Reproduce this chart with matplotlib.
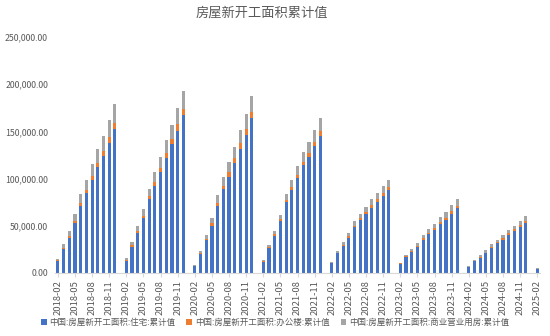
import numpy as np
import matplotlib
matplotlib.use("Agg")
import matplotlib.pyplot as plt

plt.rcParams['font.family'] = ['Noto Sans CJK SC', 'DejaVu Sans']

# months 2018-02 .. 2025-02, January is merged into Feb so it stays empty (nan)
months = ['%d-%02d' % (2018 + (1 + i) // 12, (1 + i) % 12 + 1) for i in range(85)]

nan = np.nan
# 住宅 (万平方米)
residential = [
    12700, 25100, 37400, 53000, 71000, 84700, 98900, 112300, 123900, 138100, 152500,
    nan, 13100, 27900, 42700, 58300, 78000, 92500, 107000, 121800, 136300, 150800, 167000,
    nan, 7400, 19800, 35000, 50100, 71300, 89000, 102000, 116200, 131700, 146500, 163800,
    nan, 11600, 26100, 39500, 54700, 74800, 87900, 100300, 114000, 122500, 134200, 145500,
    nan, 10600, 20800, 28600, 37400, 48400, 55800, 62500, 68900, 75200, 81200, 87600,
    nan, 9900, 17000, 22200, 27900, 35300, 40900, 45900, 51600, 56500, 62900, 68500,
    nan, 6000, 12200, 16300, 20800, 26900, 31400, 35300, 40200, 44500, 48700, 53300,
    nan, 4200,
]
# 办公楼
office = [
    1000, 1600, 2100, 2600, 3200, 3600, 4000, 4600, 5100, 5600, 6400,
    nan, 1100, 1400, 1800, 2200, 3200, 3900, 4600, 4900, 6000, 6700, 7100,
    nan, 400, 1100, 1300, 2500, 2700, 3200, 4600, 5300, 5600, 5900, 6400,
    nan, 700, 1100, 1500, 2100, 2600, 2900, 3300, 3800, 4400, 4900, 5300,
    nan, 400, 800, 1000, 1400, 1600, 2000, 2300, 2600, 2900, 3200, 3500,
    nan, 300, 600, 900, 1100, 1400, 1600, 1800, 2000, 2200, 2400, 2600,
    nan, 300, 500, 700, 900, 1100, 1300, 1500, 1700, 1800, 2000, 2200,
    nan, 300,
]
# 商业营业用房
commercial = [
    1100, 3500, 5300, 7400, 9200, 10200, 12400, 14500, 15900, 18400, 19800,
    nan, 1400, 3900, 4900, 7800, 8100, 10200, 11700, 13800, 14800, 16900, 18700,
    nan, 400, 2800, 4200, 5300, 8500, 9200, 10900, 12400, 14100, 16200, 17300,
    nan, 1400, 2500, 3900, 4900, 6700, 8100, 9900, 10200, 11700, 12700, 13800,
    nan, 400, 2100, 3200, 3500, 4900, 4900, 5300, 6700, 6700, 7800, 7800,
    nan, 500, 1700, 2200, 2900, 3600, 4100, 4600, 5200, 5700, 6300, 6800,
    nan, 800, 900, 1600, 2300, 3100, 2600, 3500, 4000, 3500, 4400, 4500,
    nan, 800,
]

labels = ['中国:房屋新开工面积:住宅:累计值',
          '中国:房屋新开工面积:办公楼:累计值',
          '中国:房屋新开工面积:商业营业用房:累计值']
colors = ['#4472C4', '#ED7D31', '#A5A5A5']
text_color = '#595959'

res = np.array(residential, dtype=float)
off = np.array(office, dtype=float)
com = np.array(commercial, dtype=float)
x = np.arange(len(months))

fig = plt.figure(figsize=(5.5, 3.36), dpi=100)
ax = fig.add_axes([0.1, 0.1875, 0.882, 0.7025])

w = 0.55
ax.bar(x, res, w, color=colors[0], label=labels[0])
ax.bar(x, off, w, bottom=res, color=colors[1], label=labels[1])
ax.bar(x, com, w, bottom=res + off, color=colors[2], label=labels[2])

ax.set_xlim(-0.5, len(months) - 0.5)
ax.set_ylim(0, 250000)
ax.set_yticks(np.arange(0, 250001, 50000))
ax.set_yticklabels(['{:,.2f}'.format(v) for v in np.arange(0, 250001, 50000)])
ax.set_xticks(x[::3])
ax.set_xticklabels(months[::3], rotation=90)

for s in ['top', 'right', 'left']:
    ax.spines[s].set_visible(False)
ax.spines['bottom'].set_color('#D9D9D9')
ax.tick_params(axis='y', length=0, labelsize=6.3, colors=text_color, pad=5)
ax.tick_params(axis='x', length=3, color='#D9D9D9', labelsize=6.8, colors=text_color, pad=2)

fig.suptitle('房屋新开工面积累计值', x=0.476, y=0.98, fontsize=9.5, color=text_color)

fig.legend(loc='center', bbox_to_anchor=(0.5, 0.04), ncol=3, frameon=False,
           fontsize=6.1, labelcolor=text_color, handlelength=0.7, handleheight=0.7,
           handletextpad=0.3, columnspacing=1.3)

fig.savefig('out.png', dpi=100)
